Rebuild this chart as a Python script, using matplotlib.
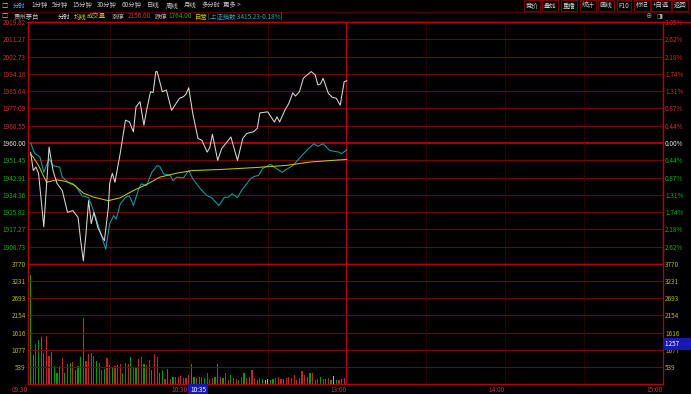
import matplotlib
matplotlib.use("Agg")
import matplotlib.pyplot as plt

plt.rcParams['font.family'] = ['Noto Sans CJK SC', 'DejaVu Sans']

W, H = 691, 394
PREV_CLOSE = 1960.00
STEP = 8.5457          # price per grid row
VOL_TOP = 3770

# white price line (minute from 09:30, price)
price_t = [0, 1, 2, 3, 5, 7, 8.5, 10, 12, 14, 16, 18, 19, 20, 21, 22, 23, 24, 25.5, 27, 28, 29.5,
           30, 31, 32, 34, 36, 37.5, 39, 40, 41.5, 43, 44, 45.5, 46.5, 47.5, 48, 50, 51.5, 53.5,
           56.5, 58, 59, 60, 61.5, 63.5, 65, 67, 68, 69, 71, 72.5, 75, 76, 78.5, 80.5, 82, 84.5,
           86, 87, 90, 92.5, 93.5, 94.5, 96.5, 98, 99.5, 100.5, 102, 103.5, 105, 106.5, 108,
           109, 110, 111, 113, 114.5, 116, 117.5, 119, 120]
price_v = [1955.4, 1946.4, 1948.1, 1945.0, 1918.6, 1958.0, 1946.4, 1940.0, 1936.5, 1925.7,
           1926.6, 1923.2, 1911.7, 1901.7, 1915.1, 1931.5, 1920.1, 1925.7, 1918.3, 1914.1,
           1911.7, 1928.2, 1940.0, 1945.0, 1940.6, 1954.9, 1971.3, 1970.4, 1965.5, 1977.9,
           1980.4, 1968.8, 1976.2, 1985.3, 1985.0, 1995.3, 1995.3, 1985.3, 1986.2, 1976.2,
           1982.1, 1982.9, 1984.2, 1987.3, 1974.8, 1962.3, 1961.3, 1955.5, 1957.7, 1964.3,
           1951.4, 1957.2, 1961.3, 1963.0, 1951.4, 1962.2, 1964.7, 1965.5, 1967.2, 1974.9,
           1975.4, 1970.4, 1972.9, 1970.4, 1976.2, 1979.6, 1984.8, 1983.2, 1985.3, 1992.0,
           1993.7, 1995.3, 1993.7, 1988.7, 1989.2, 1992.0, 1984.5, 1982.6, 1982.1, 1978.7,
           1990.3, 1990.8]

# yellow average price line
avg_t = [0, 1, 3, 6, 10, 13, 16, 20, 24, 29.5, 34, 39, 44, 49, 55.5, 61.5, 72, 84.5, 97, 106, 120]
avg_v = [1954.4, 1953.0, 1948.9, 1940.6, 1941.8, 1941.1, 1939.8, 1935.2, 1933.2, 1931.5, 1932.9,
         1936.5, 1939.5, 1943.1, 1945.1, 1946.4, 1946.9, 1947.8, 1948.9, 1950.6, 1951.9]

# cyan overlay: 上证指数 change in %
idx_t = [0, 1.5, 3.5, 5, 7, 8.5, 11, 12, 15, 17, 19.5, 22, 24.5, 26.5, 28.5, 30, 31.5, 32.5, 34,
         36, 37.5, 39, 41, 42, 44, 46, 48, 49, 50.5, 53, 54, 55.5, 58, 60, 61.5, 64.5, 67, 68.5,
         71.5, 73.5, 75, 76.5, 78.5, 80, 81.5, 83.5, 85, 86.5, 88, 89.5, 91, 92.5, 95.5, 97, 99.5,
         103, 105.5, 107.5, 109, 111, 113.5, 117, 118, 120]
idx_pct = [0.00, -0.26, -0.35, -0.74, -0.40, -0.57, -0.61, -0.86, -1.03, -1.07, -1.33, -1.38,
           -1.83, -2.26, -2.68, -2.04, -1.83, -1.92, -1.54, -1.37, -1.33, -1.58, -1.16, -1.03,
           -1.07, -0.74, -0.57, -0.59, -0.78, -0.82, -0.95, -0.86, -0.88, -0.69, -0.90, -1.16,
           -1.33, -1.37, -1.58, -1.37, -1.37, -1.28, -1.38, -1.20, -1.07, -0.90, -0.84, -0.82,
           -0.65, -0.59, -0.54, -0.61, -0.74, -0.67, -0.57, -0.31, -0.14, -0.02, -0.08, -0.02,
           -0.19, -0.23, -0.27, -0.17]

# volume per minute 09:30..11:30 and bar colour (r up, g down, w flat)
vol = [3440, 900, 1270, 1390, 1490, 970, 1515, 870, 995, 580,
       330, 580, 820, 330, 620, 660, 695, 435, 560, 850,
       2060, 725, 930, 975, 890, 715, 645, 455, 475, 810,
       590, 540, 560, 590, 640, 330, 660, 640, 850, 540,
       540, 770, 850, 640, 590, 750, 430, 950, 850, 330,
       430, 170, 480, 170, 230, 230, 230, 250, 180, 200,
       280, 620, 230, 180, 230, 230, 180, 330, 150, 180,
       230, 620, 230, 180, 330, 130, 280, 180, 150, 120,
       230, 330, 180, 230, 430, 180, 130, 180, 150, 130,
       150, 120, 150, 180, 230, 170, 150, 180, 230, 190,
       280, 140, 200, 400, 280, 230, 330, 330, 130, 150,
       230, 150, 150, 180, 120, 250, 120, 130, 150, 200,
       250]
vol_col = ("ggrgggrrgg"
           "ggrgggrggg"
           "grrgrgrrgr"
           "rgrrrgrrgr"
           "grrgrrgrrg"
           "grgrgrrrrr"
           "rggrgrgrrr"
           "ggrgrrggrg"
           "rgrgrrgrgw"
           "wggrrrgrrr"
           "rrrrrggrgr"
           "grgrgwgrgr"
           "r")

time_labels = ["09:30", "10:30", "13:00", "14:00", "15:00"]
time_ticks = [-1, 59.5, 120, 180, 240]

menu_items = ["1分钟", "5分钟", "15分钟", "30分钟", "60分钟", "日线", "周线", "月线", "多分时", "更多 >"]
menu_x = [31, 52, 72, 97, 122, 147, 166, 184, 202, 223]
buttons = ["竞价", "叠加", "重播", "统计", "画线", "F10", "标记", "+自选", "返回"]
button_x = [532, 550, 569, 588, 606, 624, 642, 661, 680]
info_items = ["贵州茅台", "分时", "均线", "成交量", "涨停", "2156.00", "跌停", "1764.00", "自营",
              "[上证指数 3415.23-0.18%]"]
info_x = [14, 58, 74, 87, 112, 128, 155, 168, 195, 208]

RED_GRID = "#7a0000"
RED_LINE = "#b80000"
RED_TXT = "#d03030"
GREEN_TXT = "#10b010"
YEL_TXT = "#b8b800"
info_col = ["#d0d0d0", "#e0e0e0", "#d8d800", "#d8b000", "#b0b0b0", RED_TXT, "#b0b0b0",
            GREEN_TXT, "#c8c800", "#20b0c0"]

fig = plt.figure(figsize=(W / 100, H / 100), dpi=100, facecolor="black")


def box(x0, y0, x1, y1):
    return [x0 / W, 1 - y1 / H, (x1 - x0) / W, (y1 - y0) / H]


ax_p = fig.add_axes(box(28, 22, 663, 264), facecolor="black")
ax_v = fig.add_axes(box(28, 264, 663, 384), facecolor="black")

# ---- price panel ----
ks = list(range(-6, 8))
ticks = [PREV_CLOSE + k * STEP for k in ks]
ax_p.set_ylim(PREV_CLOSE - 7 * STEP, PREV_CLOSE + 7 * STEP)
ax_p.set_xlim(-1, 240)
for k, y in zip(ks, ticks):
    if k == 0:
        ax_p.axhline(y, color=RED_LINE, lw=1.3)
    elif k < 7:
        ax_p.axhline(y, color=RED_GRID, lw=0.8)
for t in [30, 60, 90, 150, 180, 210]:
    ax_p.axvline(t, color="#5a0000", lw=0.7, ls=(0, (1, 1)))
    ax_v.axvline(t, color="#5a0000", lw=0.7, ls=(0, (1, 1)))
ax_p.axvline(119.5, color=RED_LINE, lw=0.9)
ax_v.axvline(119.5, color=RED_LINE, lw=0.9)

idx_price = [PREV_CLOSE * (1 + p / 100) for p in idx_pct]
ax_p.plot(idx_t, idx_price, color="#10a0a8", lw=0.75)
ax_p.plot(avg_t, avg_v, color="#c8c800", lw=0.75)
ax_p.plot(price_t, price_v, color="#d8d8d8", lw=0.75)

ax_p.set_yticks(ticks)
ax_p.set_yticklabels([f"{v:.2f}" for v in ticks])
ax_p.set_xticks([])
ax_p.tick_params(axis="y", length=0, pad=1.5, labelsize=4.6)
for k, lab in zip(ks, ax_p.get_yticklabels()):
    lab.set_color(RED_TXT if k > 0 else ("#e0e0e0" if k == 0 else GREEN_TXT))

ax_p2 = ax_p.twinx()
ax_p2.set_ylim(ax_p.get_ylim())
ax_p2.set_yticks(ticks)
ax_p2.set_yticklabels([f"{abs(k) * STEP / PREV_CLOSE * 100:.2f}%" for k in ks])
ax_p2.tick_params(axis="y", length=0, pad=1.5, labelsize=4.6)
for k, lab in zip(ks, ax_p2.get_yticklabels()):
    lab.set_color(RED_TXT if k > 0 else ("#e0e0e0" if k == 0 else GREEN_TXT))

for a in (ax_p, ax_p2):
    for s in a.spines.values():
        s.set_color(RED_LINE)
        s.set_linewidth(0.9)

# ---- volume panel ----
ax_v.set_xlim(-1, 240)
ax_v.set_ylim(0, VOL_TOP)
vticks = [VOL_TOP * k / 7 for k in range(1, 8)]
for y in vticks[:-1]:
    ax_v.axhline(y, color=RED_GRID, lw=0.8)
cmap = {"r": "#c02828", "g": "#00a000", "w": "#b0b0b0"}
ax_v.bar(range(len(vol)), vol, width=0.45, color=[cmap[c] for c in vol_col], linewidth=0)
ax_v.set_yticks(vticks)
ax_v.set_yticklabels([f"{v:.0f}" for v in vticks], color=YEL_TXT)
ax_v.tick_params(axis="y", length=0, pad=1.5, labelsize=4.6, labelleft=True, labelright=True)
ax_v.set_xticks(time_ticks)
ax_v.set_xticklabels(time_labels, color=RED_TXT, ha="right")
ax_v.tick_params(axis="x", length=0, pad=1.5, labelsize=4.6)
for s in ax_v.spines.values():
    s.set_color(RED_LINE)
    s.set_linewidth(0.9)

# cursor labels
ax_v.text(60.6, -0.02, "10:35", transform=ax_v.get_xaxis_transform(), ha="left", va="top",
          fontsize=4.6, color="white",
          bbox=dict(boxstyle="square,pad=0.3", fc="#1818b0", ec="none"))
ax_v.text(1.003, 1257, "1257       ", transform=ax_v.get_yaxis_transform(), ha="left",
          va="center", fontsize=4.6, color="white",
          bbox=dict(boxstyle="square,pad=0.3", fc="#1818b0", ec="none"))

# ---- header ----
def ftext(x, y, s, c, **kw):
    fig.text(x / W, 1 - y / H, s, color=c, fontsize=4.6, va="center", **kw)


fig.add_artist(plt.Line2D([0, 1], [1 - 11.5 / H, 1 - 11.5 / H], color="#500000", lw=0.8))
fig.add_artist(plt.Line2D([28 / W, 1], [1 - 22 / H, 1 - 22 / H], color=RED_LINE, lw=0.9))
ftext(1, 5.5, "□", "#c0c0c0")
ftext(13, 5.5, "分时", "#4aa8ff")
for s, x in zip(menu_items, menu_x):
    ftext(x, 5.5, s, "#c8c8c8")
for s, x in zip(buttons, button_x):
    ftext(x, 5.5, s, "#d0d0d0", ha="center",
          bbox=dict(boxstyle="square,pad=0.3", fc="black", ec="#900000", lw=0.6))

ftext(1, 16.5, "□", "#c0c0c0")
for s, x, c in zip(info_items, info_x, info_col):
    ftext(x, 16.5, s, c)
ftext(645, 16.5, "⊕", "#a0a0a0")
ftext(656, 16.5, "◨", "#a0a0a0")

fig.savefig("out.png", dpi=100, facecolor="black")
